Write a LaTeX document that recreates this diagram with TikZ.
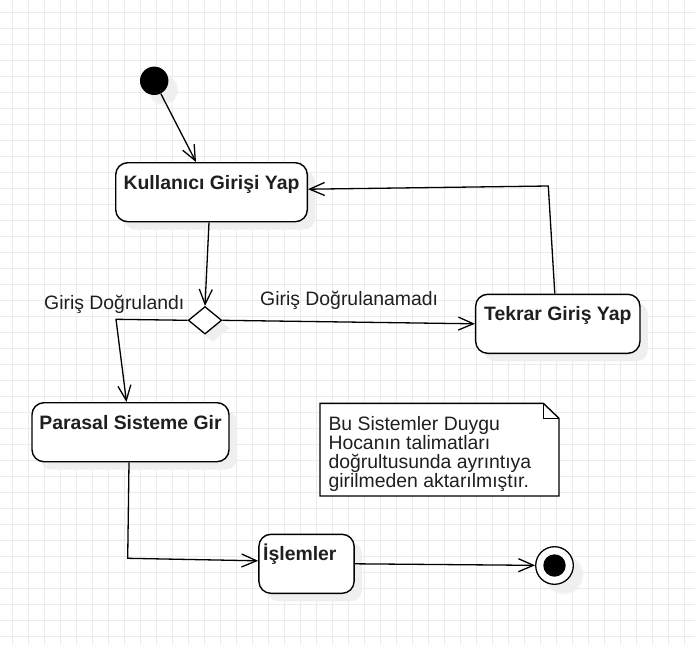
\documentclass[tikz,border=0pt]{standalone}
\usepackage{fontspec}
\setmainfont{Liberation Sans}
\usetikzlibrary{arrows.meta,calc,shapes.geometric,shadows}
\definecolor{gridgray}{HTML}{EBEBEB}
\definecolor{shadegray}{HTML}{EFEFEF}
\tikzset{>={Straight Barb[length=15pt,width=13pt]},every node/.style={font=\fontsize{19.4}{19}\selectfont,text=black!88},
flow/.style={line width=1.3pt,->},
shade/.style={drop shadow={shadow xshift=8pt,shadow yshift=-8pt,fill=shadegray,opacity=1}},
act/.style={draw,line width=1.4pt,rounded corners=12pt,fill=white,shade,inner ysep=0pt,inner xsep=0pt,text height=26.5pt,text depth=32.5pt,font=\fontsize{19.4}{19}\selectfont\bfseries},
decision/.style={draw,diamond,line width=1.3pt,fill=white,shade,inner sep=0pt,minimum width=33.5pt,minimum height=27.5pt},
notebox/.style={draw,line width=1.4pt,fill=white}}
\begin{document}
\begin{tikzpicture}[x=1pt,y=-1pt]
\useasboundingbox (0,0) rectangle (695,645);
% grid
\foreach \i in {0,...,42} \draw[gridgray,line width=.8pt] (12.5+16*\i,0)--(12.5+16*\i,645);
\foreach \j in {0,...,39} \draw[gridgray,line width=.8pt] (0,12+16*\j)--(695,12+16*\j);
% nodes
\node[circle,fill=black,minimum size=28.4pt,inner sep=0pt,circular drop shadow={shadow xshift=8pt,shadow yshift=-8pt,fill=shadegray,opacity=1}] (init) at (154.2,80.8) {};
\node[act,minimum width=191.6pt,minimum height=59pt] (kul) at (211.5,192.2) {Kullanıcı Girişi Yap};
\node[decision] (dec) at (205,320.3) {};
\node[act,minimum width=164.3pt,minimum height=59pt] (tek) at (557.8,323.8) {Tekrar Giriş Yap};
\node[act,minimum width=197pt,minimum height=59pt] (par) at (130.5,432.2) {Parasal Sisteme Gir};
\node[act,minimum height=59pt,text width=86.6pt,inner xsep=4.3pt,align=left] (isl) at (306.5,563.8) {İşlemler};
\node[circle,draw,line width=1.3pt,fill=white,minimum size=37.6pt,inner sep=0pt,circular drop shadow={shadow xshift=8pt,shadow yshift=-8pt,fill=shadegray,opacity=1}] (fin) at (554.5,565.5) {};
\fill (fin) circle(11.2);
\node[anchor=base west,inner sep=0pt] (lblok) at (44,309.5) {Giriş Doğrulandı};
\node[anchor=base west,inner sep=0pt] (lblno) at (260,305.6) {Giriş Doğrulanamadı};
% note
\draw[notebox] (320,403.3)--(543.3,403.3)--(559,418.3)--(559,496)--(320,496)--cycle;
\draw[line width=1.4pt] (543.3,403.3)--(543.3,418.3)--(559,418.3);
\node[anchor=base west,align=left,inner sep=0pt] (note) at (328.3,487) {Bu Sistemler Duygu\\Hocanın talimatları\\doğrultusunda ayrıntıya\\girilmeden aktarılmıştır.};
% connectors
\coordinate (bendA) at (116,319.3);\coordinate (bendB) at (548.3,186);\coordinate (bendC) at (127.7,558.3);
\draw[flow] (init)--([xshift=-15.5pt]kul.north);
\draw[flow] ([xshift=-2.5pt]kul.south)--(dec.north);
\draw[flow] (dec.west)--(bendA)--([xshift=-4pt]par.north);
\draw[flow] (dec.east)--(tek.west);
\draw[flow] ([xshift=-3pt]tek.north)--(bendB)--([yshift=3pt]kul.east);
\draw[flow] ([xshift=-1.5pt]par.south)--(bendC)--([yshift=3pt]isl.west);
\draw[flow] (isl.east)--(fin);
\end{tikzpicture}
\end{document}
